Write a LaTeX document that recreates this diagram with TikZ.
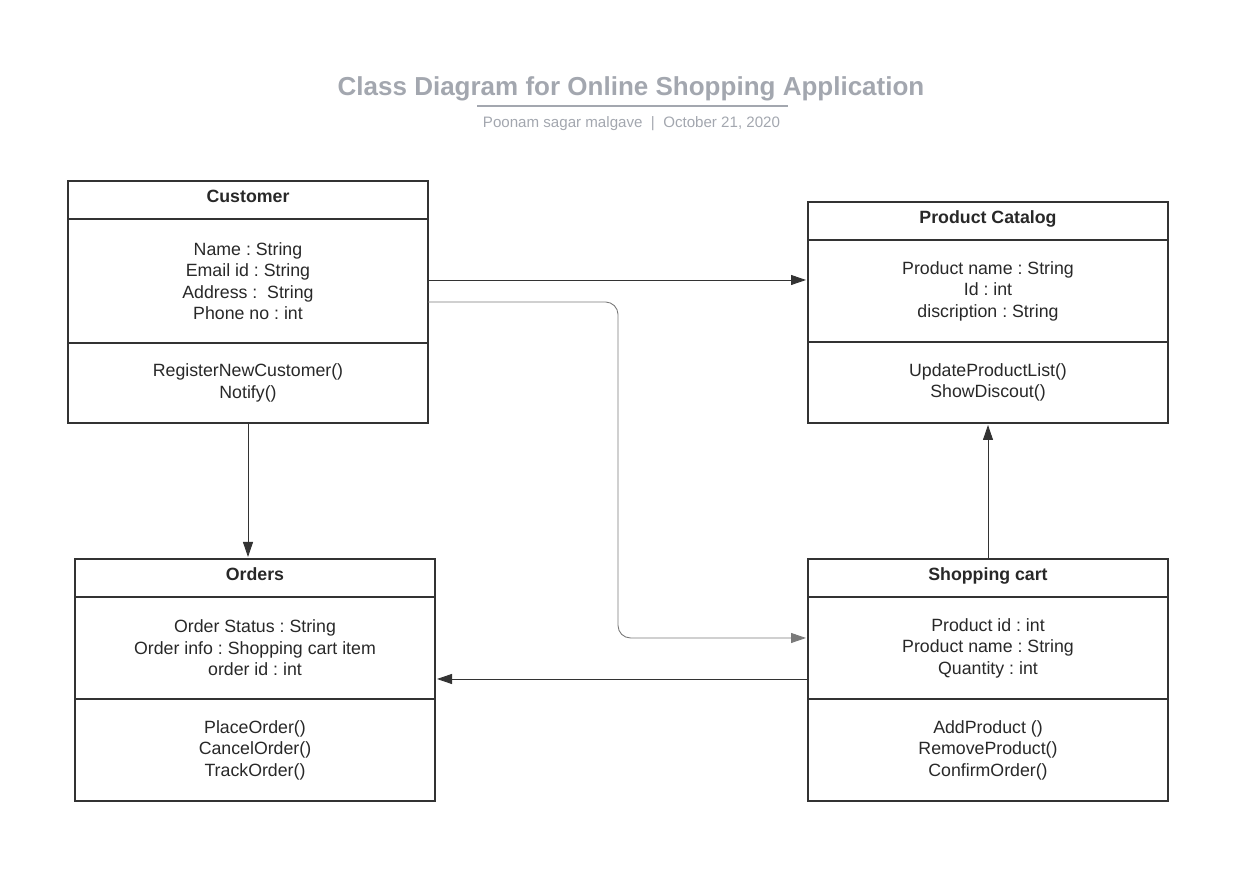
\documentclass[tikz,border=0pt]{standalone}
\usepackage{fontspec}
\setmainfont{Liberation Sans}
\usepackage{tikz}
\usetikzlibrary{positioning,arrows.meta}

\definecolor{boxline}{HTML}{333333}
\definecolor{boxtext}{HTML}{282828}
\definecolor{titlegray}{HTML}{A3A7AF}
\definecolor{linkgray}{HTML}{7A7A7A}

\tikzset{
  classhead/.style={draw=boxline, line width=1.1pt, minimum width=7.2cm,
    minimum height=0.76cm, inner sep=0pt, outer sep=0pt, text=boxtext,
    text height=0.26cm, text depth=0.14cm,
    font=\fontsize{10.1}{12.2}\selectfont\bfseries},
  classbody/.style={draw=boxline, line width=1.1pt, minimum width=7.2cm,
    inner sep=0pt, outer sep=0pt, align=center, text=boxtext,
    font=\fontsize{10.1}{12.2}\selectfont\frenchspacing},
  link/.style={draw=boxline, line width=0.5pt,
    -{Triangle[length=0.3cm,width=0.2cm]}, shorten >=0.04cm},
}

\begin{document}
\begin{tikzpicture}
  \useasboundingbox (0,0) rectangle (24.9,-17.68);

  % title block
  \node[text=titlegray, font=\fontsize{14.8}{17}\selectfont\bfseries] (title) at (12.62,-1.78)
    {Class Diagram for Online Shopping Application};
  \draw[titlegray, line width=1.1pt] (9.54,-2.12) -- (15.76,-2.12);
  \node[text=titlegray, font=\fontsize{8.6}{10}\selectfont] (subtitle) at (12.63,-2.48)
    {Poonam sagar malgave \ | \ October 21, 2020};

  % Customer
  \node[classhead, anchor=north] (cust) at (4.96,-3.62) {Customer};
  \node[classbody, minimum height=2.48cm, below=0pt of cust] (custattr)
    {Name : String\\Email id : String\\Address : \ String\\Phone no : int};
  \node[classbody, minimum height=1.6cm, below=0pt of custattr] (custmeth)
    {RegisterNewCustomer()\\Notify()};

  % Product Catalog
  \node[classhead, anchor=north] (prod) at (19.76,-4.04) {Product Catalog};
  \node[classbody, minimum height=2.04cm, below=0pt of prod] (prodattr)
    {Product name : String\\Id : int\\discription : String};
  \node[classbody, minimum height=1.62cm, below=0pt of prodattr] (prodmeth)
    {UpdateProductList()\\ShowDiscout()};

  % Orders
  \node[classhead, anchor=north] (ord) at (5.1,-11.18) {Orders};
  \node[classbody, minimum height=2.04cm, below=0pt of ord] (ordattr)
    {Order Status : String\\Order info : Shopping cart item\\order id : int};
  \node[classbody, minimum height=2.04cm, below=0pt of ordattr] (ordmeth)
    {PlaceOrder()\\CancelOrder()\\TrackOrder()};

  % Shopping cart
  \node[classhead, anchor=north] (cart) at (19.76,-11.18) {Shopping cart};
  \node[classbody, minimum height=2.04cm, below=0pt of cart] (cartattr)
    {Product id : int\\Product name : String\\Quantity : int};
  \node[classbody, minimum height=2.04cm, below=0pt of cartattr] (cartmeth)
    {AddProduct ()\\RemoveProduct()\\ConfirmOrder()};

  % associations
  \draw[link] ([yshift=0.02cm]custattr.east) -- ([yshift=0.02cm]custattr.east -| prodattr.west);
  \draw[link, draw=linkgray, rounded corners=0.25cm]
    ([yshift=-0.42cm]custattr.east) -- ++(3.8,0) |- ([yshift=0.2cm]cartattr.west);
  \draw[link] (custmeth.south) -- (custmeth.south |- ord.north);
  \draw[link] ([yshift=-0.62cm]cartattr.west) -- ([yshift=-0.62cm]cartattr.west -| ordattr.east);
  \draw[link] (cart.north) -- (prodmeth.south);
\end{tikzpicture}
\end{document}
